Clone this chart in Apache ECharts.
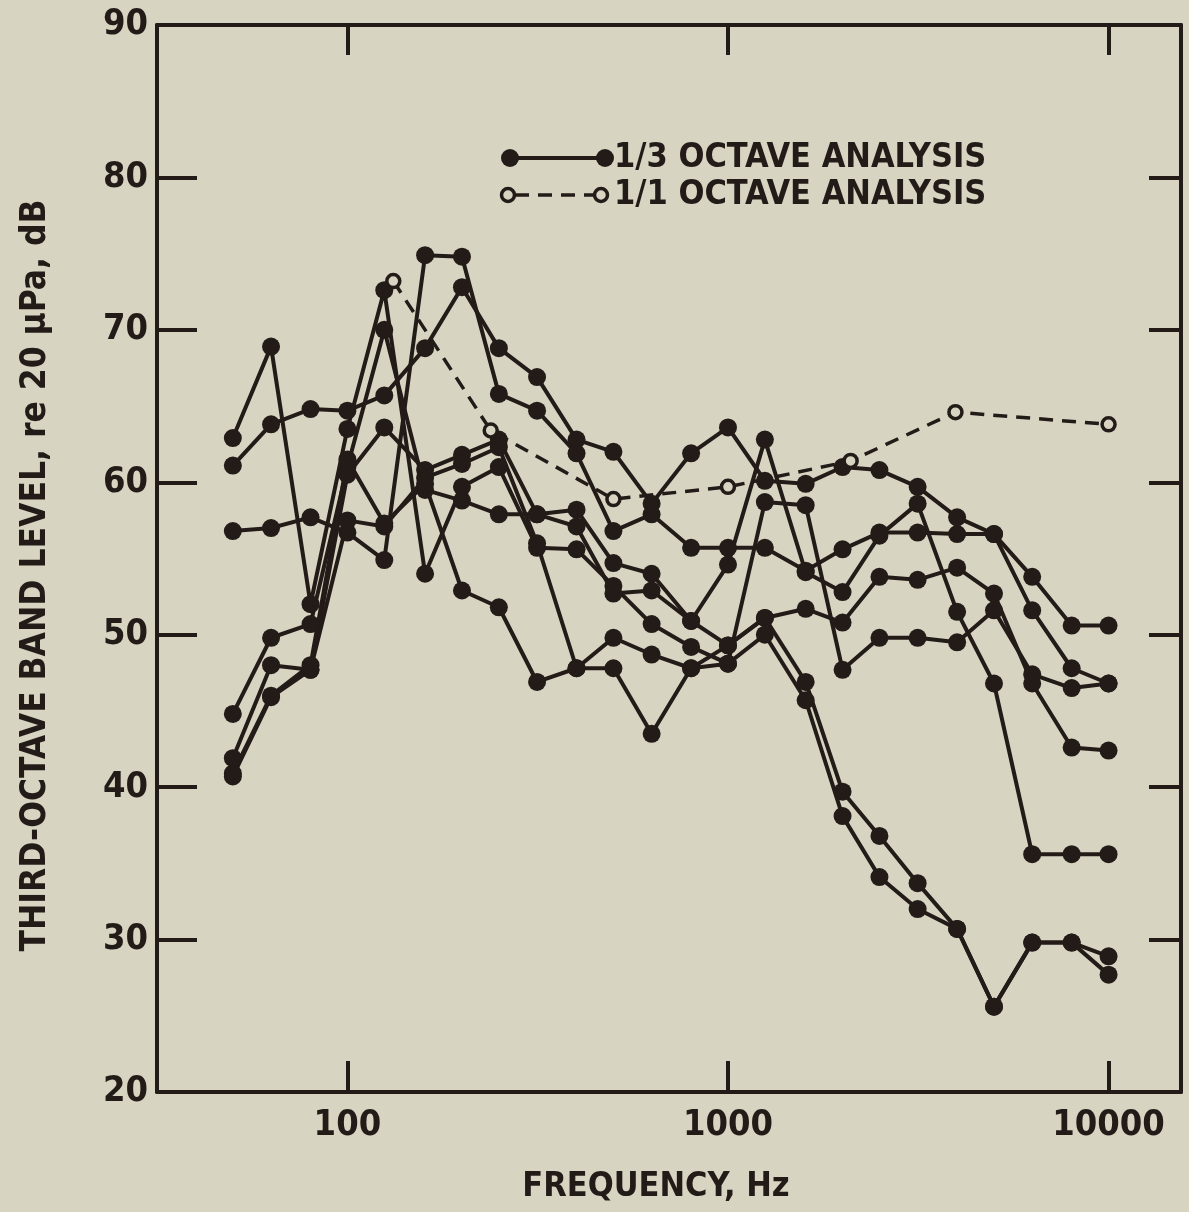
<!DOCTYPE html>
<html>
<head>
<meta charset="utf-8">
<script src="https://cdn.jsdelivr.net/npm/echarts@6/dist/echarts.min.js"></script>
<style>
html, body { margin: 0; padding: 0; background: #d7d4c2; }
#chart { width: 1189px; height: 1212px; }
</style>
</head>
<body>
<div id="chart"></div>
<script>
// 1/3 octave band centre frequencies, Hz
var freqs = [50, 63, 80, 100, 125, 160, 200, 250, 315, 400, 500, 630, 800, 1000, 1250, 1600, 2000, 2500, 3150, 4000, 5000, 6300, 8000, 10000];

// band levels, dB re 20 uPa (one array per curve)
var curveA = [61.1, 63.8, 64.8, 64.7, 65.7, 68.8, 72.8, 68.8, 66.9, 62.8, 62.0, 58.6, 61.9, 63.6, 60.1, 59.9, 61.0, 60.8, 59.7, 57.7, 56.6, 53.8, 50.6, 50.6];
var curveB = [56.8, 57.0, 57.7, 56.7, 54.9, 74.9, 74.8, 65.8, 64.7, 61.9, 56.8, 57.9, 55.7, 55.7, 55.7, 54.2, 55.6, 56.7, 56.7, 56.6, 56.6, 51.6, 47.8, 46.8];
var curveC = [62.9, 68.9, 52.0, 63.5, 72.6, 54.0, 59.7, 61.0, 55.7, 55.6, 53.2, 50.7, 49.2, 48.1, 58.7, 58.5, 47.7, 49.8, 49.8, 49.5, 51.6, 47.4, 46.5, 46.8];
var curveD = [44.8, 49.8, 50.7, 61.0, 70.0, 59.5, 58.8, 57.9, 57.9, 57.1, 52.7, 52.9, 50.9, 49.3, 51.1, 51.7, 50.8, 53.8, 53.6, 54.4, 52.7, 46.8, 42.6, 42.4];
var curveE = [41.9, 48.0, 47.7, 60.5, 63.6, 60.8, 61.8, 62.8, 57.9, 58.2, 54.7, 54.0, 50.9, 54.6, 62.8, 54.1, 52.8, 56.5, 58.6, 51.5, 46.8, 35.6, 35.6, 35.6];
var curveF = [40.7, 45.9, 47.7, 57.5, 57.1, 60.3, 61.2, 62.3, 56.0, 47.8, 49.8, 48.7, 47.8, 49.3, 51.1, 46.9, 39.7, 36.8, 33.7, 30.7, 25.6, 29.8, 29.8, 28.9];
var curveG = [40.9, 46.0, 48.0, 61.5, 57.3, 59.9, 52.9, 51.8, 46.9, 47.8, 47.8, 43.5, 47.8, 48.1, 50.0, 45.7, 38.1, 34.1, 32.0, 30.7, 25.6, 29.8, 29.8, 27.7];

// 1/1 octave analysis (open circles, dashed)
var octaveFreqs = [132, 238, 500, 1000, 2100, 3960, 10000];
var octaveLevels = [73.2, 63.4, 58.9, 59.7, 61.4, 64.6, 63.8];

var xTicks = [100, 1000, 10000];
var xTickLabels = ['100', '1000', '10000'];

var ink = '#231b18';
var paper = '#d7d4c2';
var font = '"Liberation Sans Narrow", "DejaVu Sans Condensed", sans-serif';

function pairs(xs, ys) {
    return xs.map(function (x, i) { return [x, ys[i]]; });
}

var thirdCurves = [curveA, curveB, curveC, curveD, curveE, curveF, curveG];
var series = thirdCurves.map(function (c) {
    return {
        name: '1/3 OCTAVE ANALYSIS',
        type: 'line',
        data: pairs(freqs, c),
        symbol: 'circle',
        symbolSize: 18,
        lineStyle: { color: ink, width: 4 },
        itemStyle: { color: ink },
        z: 3
    };
});
series.push({
    name: '1/1 OCTAVE ANALYSIS',
    type: 'line',
    data: pairs(octaveFreqs, octaveLevels),
    symbol: 'circle',
    symbolSize: 13,
    lineStyle: { color: ink, width: 3.5, type: [14, 9] },
    itemStyle: { color: paper, borderColor: ink, borderWidth: 3.5 },
    z: 4
});

var tickFont = { color: ink, fontFamily: font, fontWeight: 'bold', fontSize: 36 };

var chart = echarts.init(document.getElementById('chart'));
chart.setOption({
    animation: false,
    backgroundColor: paper,
    grid: { left: 157, right: 8, top: 25, bottom: 120 },
    xAxis: [
        {
            type: 'log', logBase: 10, min: 31.6, max: 15500, position: 'bottom',
            axisLine: { lineStyle: { color: ink, width: 4 } },
            axisTick: { inside: true, length: 31, lineStyle: { color: ink, width: 4 }, customValues: xTicks },
            axisLabel: Object.assign({
                customValues: xTicks, margin: 16,
                formatter: function (v) { return xTickLabels[xTicks.indexOf(Math.round(v))] || ''; }
            }, tickFont),
            splitLine: { show: false },
            name: 'FREQUENCY, Hz', nameLocation: 'middle', nameGap: 78,
            nameTextStyle: { color: ink, fontFamily: font, fontWeight: 'bold', fontSize: 34, padding: [0, 26, 0, 0] }
        },
        {
            type: 'log', logBase: 10, min: 31.6, max: 15500, position: 'top',
            axisLine: { lineStyle: { color: ink, width: 4 } },
            axisTick: { inside: true, length: 30, lineStyle: { color: ink, width: 4 }, customValues: xTicks },
            axisLabel: { show: false },
            splitLine: { show: false }
        }
    ],
    yAxis: [
        {
            type: 'value', min: 20, max: 90, interval: 10, position: 'left',
            axisLine: { show: true, lineStyle: { color: ink, width: 4 } },
            axisTick: { show: true, inside: true, length: 40, lineStyle: { color: ink, width: 4 } },
            axisLabel: Object.assign({ margin: 9 }, tickFont),
            splitLine: { show: false },
            name: 'THIRD-OCTAVE BAND LEVEL, re 20 \u03bcPa, dB', nameLocation: 'middle', nameGap: 104,
            nameTextStyle: { color: ink, fontFamily: font, fontWeight: 'bold', fontSize: 35, padding: [0, 34, 0, 0] }
        },
        {
            type: 'value', min: 20, max: 90, interval: 10, position: 'right',
            axisLine: { show: true, lineStyle: { color: ink, width: 4 } },
            axisTick: { show: true, inside: true, length: 32, lineStyle: { color: ink, width: 4 } },
            axisLabel: { show: false },
            splitLine: { show: false }
        }
    ],
    graphic: [
        { type: 'line', shape: { x1: 510, y1: 158, x2: 605, y2: 158 }, style: { stroke: ink, lineWidth: 4 } },
        { type: 'circle', shape: { cx: 510, cy: 158, r: 9 }, style: { fill: ink } },
        { type: 'circle', shape: { cx: 605, cy: 158, r: 9 }, style: { fill: ink } },
        { type: 'text', x: 614, y: 158, style: { text: '1/3 OCTAVE ANALYSIS', fill: ink, font: 'bold 34px ' + font, verticalAlign: 'middle' } },
        { type: 'line', shape: { x1: 515, y1: 195, x2: 595, y2: 195 }, style: { stroke: ink, lineWidth: 3.5, lineDash: [14, 9] } },
        { type: 'circle', shape: { cx: 508, cy: 195, r: 6.5 }, style: { fill: paper, stroke: ink, lineWidth: 3.5 } },
        { type: 'circle', shape: { cx: 601, cy: 195, r: 6.5 }, style: { fill: paper, stroke: ink, lineWidth: 3.5 } },
        { type: 'text', x: 614, y: 195, style: { text: '1/1 OCTAVE ANALYSIS', fill: ink, font: 'bold 34px ' + font, verticalAlign: 'middle' } }
    ],
    series: series
});
</script>
</body>
</html>
